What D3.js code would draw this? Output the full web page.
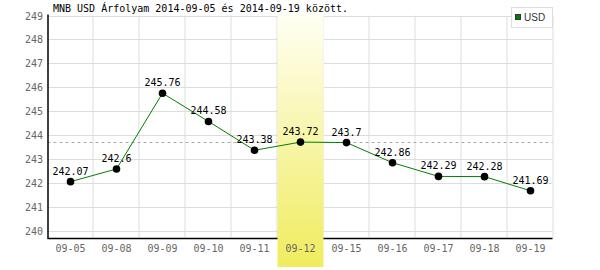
<!DOCTYPE html>
<html>
<head>
<meta charset="utf-8">
<script src="https://cdn.jsdelivr.net/npm/d3@7"></script>
<style>
    body { margin: 0; background: #fff; }
    svg { display: block; }
</style>
</head>
<body>
<div id="chart_parent"></div>
<script>
const days = ['09-05', '09-08', '09-09', '09-10', '09-11', '09-12', '09-15', '09-16', '09-17', '09-18', '09-19'];
const rates = [242.07, 242.6, 245.76, 244.58, 243.38, 243.72, 243.7, 242.86, 242.29, 242.28, 241.69];
const yTicks = [240, 241, 242, 243, 244, 245, 246, 247, 248, 249];
const highlightDay = '09-12';
const titleText = 'MNB USD Árfolyam 2014-09-05 és 2014-09-19 között.';
const seriesName = 'USD';

const chartConfig = {
    outerWidth: 600,
    outerHeight: 270,
    left: 47.5,
    right: 553.5,
    top: 15.5,
    bottom: 238.5,
};

const mono = "'DejaVu Sans Mono', 'Liberation Mono', monospace";

const svg = d3.select('#chart_parent').append('svg')
    .attr('width', chartConfig.outerWidth)
    .attr('height', chartConfig.outerHeight);

const xScale = d3.scaleBand()
    .domain(days)
    .range([chartConfig.left, chartConfig.right])
    .padding(0);

const yScale = d3.scaleLinear()
    .domain([239.7, 249])
    .range([chartConfig.bottom, chartConfig.top]);

// gridlines
const grid = svg.append('g').attr('stroke', '#ddd').attr('stroke-width', 1);
grid.selectAll('.hgrid').data(yTicks).enter().append('line')
    .attr('x1', chartConfig.left).attr('x2', chartConfig.right - 1)
    .attr('y1', d => Math.round(yScale(d)) + 0.5)
    .attr('y2', d => Math.round(yScale(d)) + 0.5);
grid.selectAll('.vgrid').data(days.slice(1).concat(['end'])).enter().append('line')
    .attr('x1', (d, i) => chartConfig.left + (i + 1) * xScale.step() - 0.5)
    .attr('x2', (d, i) => chartConfig.left + (i + 1) * xScale.step() - 0.5)
    .attr('y1', chartConfig.top)
    .attr('y2', chartConfig.bottom);

// reference dashed line at highlighted day's value
const hiVal = rates[days.indexOf(highlightDay)];
svg.append('line')
    .attr('x1', chartConfig.left).attr('x2', chartConfig.right - 1)
    .attr('y1', Math.round(yScale(hiVal)) + 0.5)
    .attr('y2', Math.round(yScale(hiVal)) + 0.5)
    .attr('stroke', '#aaa')
    .attr('stroke-dasharray', '3,3');

// axes
svg.append('line')
    .attr('x1', chartConfig.left + 0.5).attr('x2', chartConfig.left + 0.5)
    .attr('y1', chartConfig.top - 1).attr('y2', chartConfig.bottom)
    .attr('stroke', '#000').attr('stroke-width', 1.5);
svg.append('line')
    .attr('x1', chartConfig.left).attr('x2', chartConfig.right - 1)
    .attr('y1', chartConfig.bottom).attr('y2', chartConfig.bottom)
    .attr('stroke', '#000').attr('stroke-width', 1.5);

// highlight band
const grad = svg.append('defs').append('linearGradient')
    .attr('id', 'hiGrad')
    .attr('x1', 0).attr('y1', 0).attr('x2', 0).attr('y2', 1);
grad.append('stop').attr('offset', '0%').attr('stop-color', '#fffff4');
grad.append('stop').attr('offset', '100%').attr('stop-color', '#f0ec5e');

svg.append('rect')
    .attr('x', xScale(highlightDay))
    .attr('y', 13)
    .attr('width', xScale.bandwidth())
    .attr('height', 254)
    .attr('fill', 'url(#hiGrad)');

// y tick labels
svg.append('g').selectAll('text').data(yTicks).enter().append('text')
    .attr('x', 43)
    .attr('y', d => yScale(d) + 4)
    .attr('text-anchor', 'end')
    .attr('font-family', mono)
    .attr('font-size', 10)
    .attr('fill', '#666')
    .text(d => d);

// x tick labels
svg.append('g').selectAll('text').data(days).enter().append('text')
    .attr('x', d => xScale(d) + xScale.bandwidth() / 2)
    .attr('y', 252)
    .attr('text-anchor', 'middle')
    .attr('font-family', mono)
    .attr('font-size', 10)
    .attr('fill', '#666')
    .text(d => d);

// series line
const theLine = d3.line()
    .x((d, i) => xScale(days[i]) + xScale.bandwidth() / 2)
    .y(d => yScale(d));

svg.append('path')
    .datum(rates)
    .attr('d', theLine)
    .attr('fill', 'none')
    .attr('stroke', '#008000')
    .attr('stroke-width', 1);

svg.append('g').selectAll('circle').data(rates).enter().append('circle')
    .attr('cx', (d, i) => xScale(days[i]) + xScale.bandwidth() / 2)
    .attr('cy', d => yScale(d))
    .attr('r', 3.8)
    .attr('fill', '#000');

svg.append('g').selectAll('text').data(rates).enter().append('text')
    .attr('x', (d, i) => xScale(days[i]) + xScale.bandwidth() / 2)
    .attr('y', d => yScale(d) - 7)
    .attr('text-anchor', 'middle')
    .attr('font-family', mono)
    .attr('font-size', 10)
    .attr('fill', '#000')
    .text(d => d);

// title
svg.append('text')
    .attr('x', 53)
    .attr('y', 12)
    .attr('font-family', mono)
    .attr('font-size', 10)
    .attr('fill', '#000')
    .text(titleText);

// legend
const legend = svg.append('g');
legend.append('rect')
    .attr('x', 511.5).attr('y', 7.5)
    .attr('width', 41).attr('height', 20)
    .attr('fill', '#fff')
    .attr('stroke', '#ddd');
legend.append('rect')
    .attr('x', 515.5).attr('y', 14.5)
    .attr('width', 5).attr('height', 5)
    .attr('fill', '#008000')
    .attr('stroke', '#333');
legend.append('text')
    .attr('x', 524)
    .attr('y', 21)
    .attr('font-family', "'Liberation Sans', Arial, sans-serif")
    .attr('font-size', 10)
    .attr('fill', '#333')
    .text(seriesName);
</script>
</body>
</html>
